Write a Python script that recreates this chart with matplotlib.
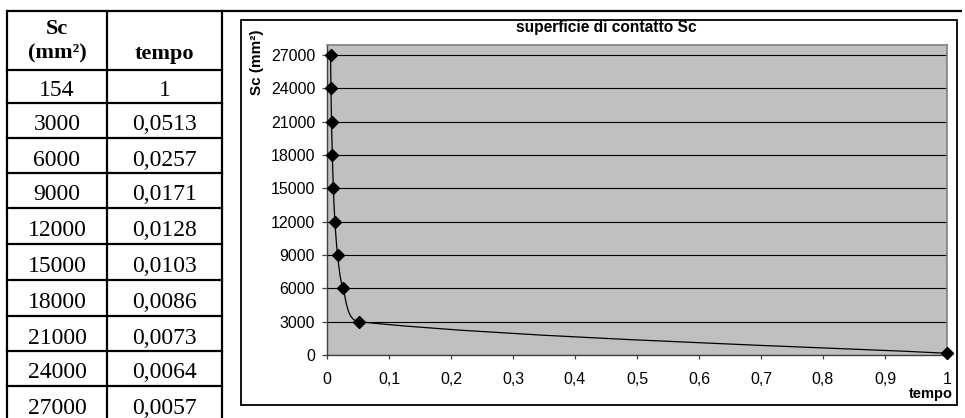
import numpy as np
import matplotlib
matplotlib.use("Agg")
import matplotlib.pyplot as plt
from matplotlib.path import Path
from matplotlib.patches import PathPatch, Rectangle

# table / chart data
sc = [154, 3000, 6000, 9000, 12000, 15000, 18000, 21000, 24000, 27000]
tempo = [1, 0.0513, 0.0257, 0.0171, 0.0128, 0.0103, 0.0086, 0.0073, 0.0064, 0.0057]
tempo_txt = ["1", "0,0513", "0,0257", "0,0171", "0,0128", "0,0103", "0,0086",
             "0,0073", "0,0064", "0,0057"]

x_ticks = [0, 0.1, 0.2, 0.3, 0.4, 0.5, 0.6, 0.7, 0.8, 0.9, 1]
x_ticklabels = ["0", "0,1", "0,2", "0,3", "0,4", "0,5", "0,6", "0,7", "0,8", "0,9", "1"]
y_ticks = [0, 3000, 6000, 9000, 12000, 15000, 18000, 21000, 24000, 27000]

W, H = 965, 418
SANS = "Liberation Sans"
SERIF = "Liberation Serif"

fig = plt.figure(figsize=(W / 100, H / 100), dpi=100)

# overlay in pixel coordinates for the table and the frames
ov = fig.add_axes([0, 0, 1, 1], zorder=0)
ov.set_xlim(0, W)
ov.set_ylim(H, 0)
ov.axis("off")

# ---- table ----
row_y = [70, 103, 138, 173, 208, 244, 280, 316, 351, 386, 421]
col_x = [7, 107, 222]
lw_tab = 1.6
ov.plot([7, 962], [11, 11], color="black", lw=lw_tab, solid_capstyle="butt")
for y in row_y:
    ov.plot([col_x[0], col_x[-1]], [y, y], color="black", lw=lw_tab)
for x in col_x:
    ov.plot([x, x], [11, H + 5], color="black", lw=lw_tab)

c1 = (col_x[0] + col_x[1]) / 2
c2 = (col_x[1] + col_x[2]) / 2
ov.text(c1, 34, "Sc", family=SERIF, weight="bold", fontsize=16, ha="center", va="baseline")
ov.text(c1, 58.5, "(mm²)", family=SERIF, weight="bold", fontsize=16, ha="center", va="baseline")
ov.text(c2, 58.5, "tempo", family=SERIF, weight="bold", fontsize=16, ha="center", va="baseline")
for i in range(len(sc)):
    yb = row_y[i + 1] - 7.5
    ov.text(c1, yb, str(sc[i]), family=SERIF, fontsize=17, ha="center", va="baseline")
    ov.text(c2, yb, tempo_txt[i], family=SERIF, fontsize=17, ha="center", va="baseline")

# ---- chart frame and texts ----
ov.add_patch(Rectangle((241, 20), 716, 385, fill=False, edgecolor="black", lw=1.3))
ov.text(606, 32, "superficie di contatto Sc", family=SANS, weight="bold",
        fontsize=11.2, ha="center", va="baseline")
ov.text(257, 62, "Sc (mm²)", family=SANS, weight="bold", fontsize=11,
        rotation=90, ha="center", va="center")
ov.text(953, 398, "tempo", family=SANS, weight="bold", fontsize=10.5,
        ha="right", va="baseline")

# ---- chart ----
left, right, top, bottom = 327, 947, 45, 355
ax = fig.add_axes([left / W, (H - bottom) / H, (right - left) / W, (bottom - top) / H], zorder=1)
ax.set_facecolor("#c0c0c0")
ax.set_xlim(0, 1)
ax.set_ylim(0, 27900)
ax.set_xticks(x_ticks)
ax.set_xticklabels(x_ticklabels)
ax.set_yticks(y_ticks)
ax.yaxis.grid(True, color="black", lw=0.8)
ax.set_axisbelow(True)
for s in ["top", "right"]:
    ax.spines[s].set_color("#808080")
    ax.spines[s].set_linewidth(1.2)
for s in ["left", "bottom"]:
    ax.spines[s].set_color("#404040")
    ax.spines[s].set_linewidth(1.0)
ax.tick_params(axis="y", direction="out", length=3.5, width=0.9, color="#404040", pad=5,
               labelsize=11.5)
ax.tick_params(axis="x", direction="out", length=3, width=0.9, color="#404040", pad=9.5,
               labelsize=11.5)
for lab in ax.get_xticklabels() + ax.get_yticklabels():
    lab.set_family(SANS)

# smoothed line (bezier through the points, computed in display space)
pts = ax.transData.transform(np.column_stack([tempo, sc]))
n = len(pts)
verts = [pts[0]]
codes = [Path.MOVETO]
for i in range(n - 1):
    p0 = pts[max(i - 1, 0)]
    p1 = pts[i]
    p2 = pts[i + 1]
    p3 = pts[min(i + 2, n - 1)]
    seg = np.hypot(*(p2 - p1))
    t1 = (p2 - p0) / 6
    t2 = (p3 - p1) / 6
    if i == 0:
        # a little more sag after the knee, as in the original
        t2 = t2 * 1.5
    for t in (t1, t2):
        m = np.hypot(*t)
        if m > seg / 3:
            t *= (seg / 3) / m
    verts += [p1 + t1, p2 - t2, p2]
    codes += [Path.CURVE4] * 3
verts = ax.transData.inverted().transform(np.array(verts))
ax.add_patch(PathPatch(Path(verts, codes), fill=False, edgecolor="black", lw=0.9, zorder=3))
ax.plot(tempo, sc, linestyle="none", marker="D", markersize=6, color="black", zorder=4,
        clip_on=False)

fig.savefig("out.png", dpi=100)
